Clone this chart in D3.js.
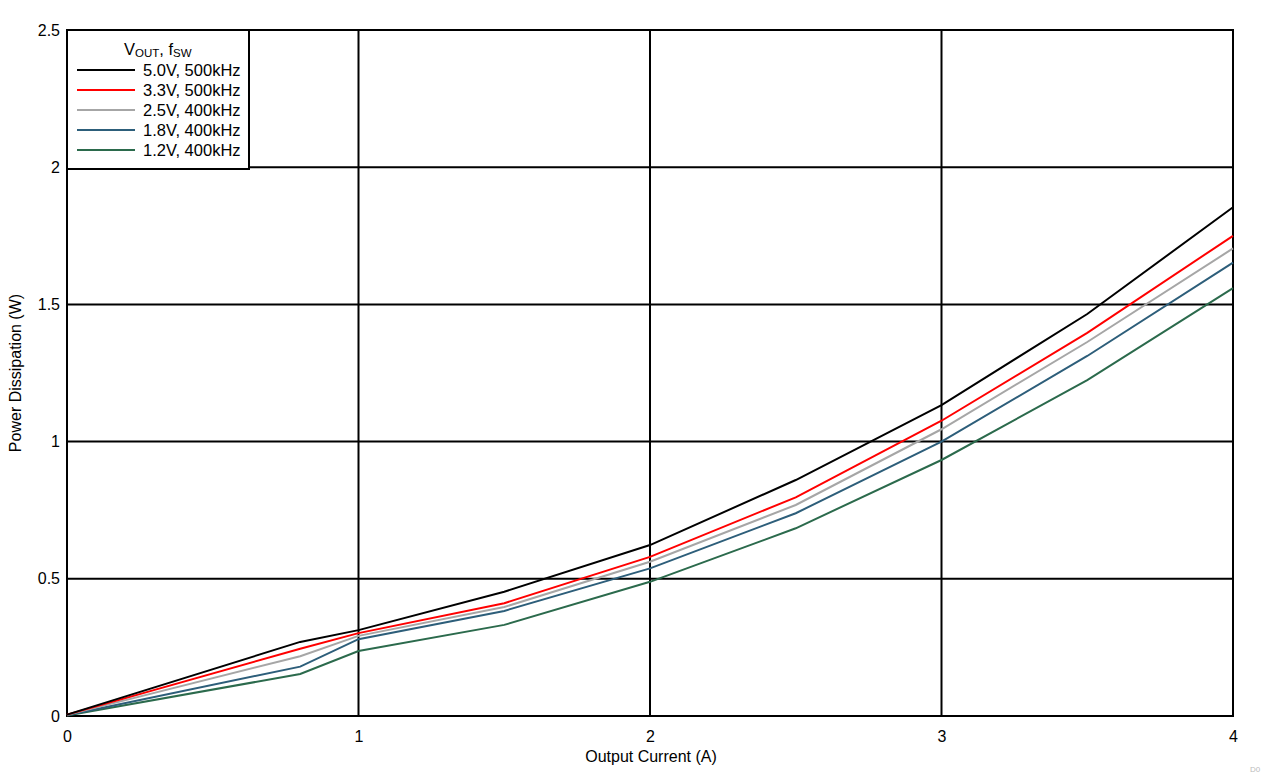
<!DOCTYPE html>
<html><head><meta charset="utf-8">
<script src="https://cdn.jsdelivr.net/npm/d3@7"></script>
<style>body{margin:0;background:#fff}svg{display:block}text{font-family:"Liberation Sans",Arial,sans-serif}</style>
</head><body><svg id="c" width="1262" height="776"></svg>
<script>
const current = [0, 0.8, 1, 1.5, 2, 2.5, 3, 3.5, 4];
const v50 = [0.005, 0.27, 0.313, 0.453, 0.623, 0.86, 1.133, 1.465, 1.854];
const v33 = [0.005, 0.245, 0.302, 0.411, 0.58, 0.797, 1.076, 1.396, 1.75];
const v25 = [0.004, 0.218, 0.292, 0.397, 0.562, 0.769, 1.045, 1.363, 1.704];
const v18 = [0.003, 0.18, 0.28, 0.383, 0.538, 0.739, 1.0, 1.312, 1.652];
const v12 = [0.002, 0.153, 0.237, 0.332, 0.489, 0.684, 0.933, 1.224, 1.559];
const seriesNames = ["5.0V, 500kHz", "3.3V, 500kHz", "2.5V, 400kHz", "1.8V, 400kHz", "1.2V, 400kHz"];
const seriesColors = ["#000000", "#ff0000", "#a6a6a6", "#2d5e7a", "#2b6a4c"];
const seriesValues = [v50, v33, v25, v18, v12];
const xTicks = [0, 1, 2, 3, 4];
const yTicks = [0, 0.5, 1, 1.5, 2, 2.5];

const svg = d3.select("#c");
const L = 67, R = 1233, T = 30, B = 716;
const x = d3.scaleLinear().domain([0, 4]).range([L, R]);
const y = d3.scaleLinear().domain([0, 2.5]).range([B, T]);

// grid
svg.append("g").selectAll("line").data(xTicks).join("line")
  .attr("x1", d => x(d)).attr("x2", d => x(d)).attr("y1", T).attr("y2", B)
  .attr("stroke", "#000").attr("stroke-width", 2);
svg.append("g").selectAll("line").data(yTicks).join("line")
  .attr("x1", L).attr("x2", R).attr("y1", d => y(d)).attr("y2", d => y(d))
  .attr("stroke", "#000").attr("stroke-width", 2);
svg.append("rect").attr("x", L).attr("y", T).attr("width", R - L).attr("height", B - T)
  .attr("fill", "none").attr("stroke", "#000").attr("stroke-width", 2);

// axes labels via d3 axes
const xAxis = svg.append("g").attr("transform", `translate(0,${B})`)
  .call(d3.axisBottom(x).tickValues(xTicks).tickFormat(d3.format("d")).tickSize(0).tickPadding(14.5));
xAxis.select(".domain").remove();
xAxis.selectAll("text").attr("font-size", 16).attr("fill", "#000").attr("font-family", "Liberation Sans, Arial, sans-serif");
const yAxis = svg.append("g").attr("transform", `translate(${L},0)`)
  .call(d3.axisLeft(y).tickValues(yTicks).tickFormat(d => String(d)).tickSize(0).tickPadding(7));
yAxis.select(".domain").remove();
yAxis.selectAll("text").attr("font-size", 16).attr("fill", "#000").attr("font-family", "Liberation Sans, Arial, sans-serif");

svg.append("text").attr("x", 651).attr("y", 762).attr("text-anchor", "middle")
  .attr("font-size", 16).text("Output Current (A)");
svg.append("text").attr("transform", `translate(21,${(T + B) / 2}) rotate(-90)`).attr("text-anchor", "middle")
  .attr("font-size", 16).text("Power Dissipation (W)");
svg.append("text").attr("x", 1250).attr("y", 772).attr("font-size", 8).attr("fill", "#bbb").text("D0");

// lines
const line = d3.line().x((d, i) => x(current[i])).y(d => y(d));
svg.append("g").selectAll("path").data(seriesValues.map((v, i) => ({v, i})).reverse()).join("path")
  .attr("d", d => line(d.v)).attr("fill", "none")
  .attr("stroke", d => seriesColors[d.i]).attr("stroke-width", 2);

// legend
const lg = svg.append("g");
lg.append("rect").attr("x", L).attr("y", T).attr("width", 182).attr("height", 139)
  .attr("fill", "#fff").attr("stroke", "#000").attr("stroke-width", 2);
const title = lg.append("text").attr("x", 124).attr("y", 55).attr("font-size", 16.5);
title.append("tspan").text("V");
title.append("tspan").attr("font-size", 11.5).attr("dy", 2).text("OUT");
title.append("tspan").attr("dy", -2).text(", f");
title.append("tspan").attr("font-size", 11.5).attr("dy", 2).text("SW");
const items = lg.selectAll("g.it").data(seriesNames).join("g").attr("class", "it")
  .attr("transform", (d, i) => `translate(0,${70 + i * 20})`);
items.append("line").attr("x1", 77).attr("x2", 135).attr("y1", 0).attr("y2", 0)
  .attr("stroke", (d, i) => seriesColors[i]).attr("stroke-width", 2);
items.append("text").attr("x", 143).attr("y", 6).attr("font-size", 16.5).text(d => d);
</script></body></html>
